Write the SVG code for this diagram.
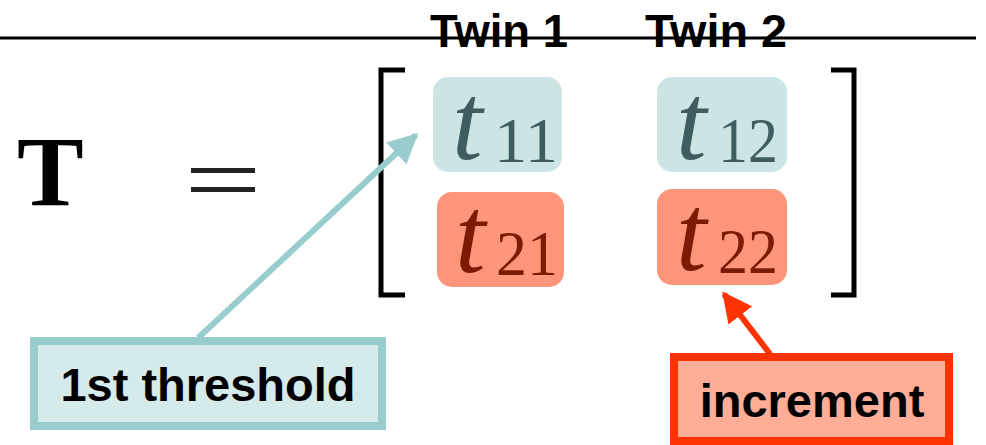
<svg xmlns="http://www.w3.org/2000/svg" width="986" height="445" viewBox="0 0 986 445">
<defs>
<style>
.lbl{font-family:"Liberation Sans",Arial,sans-serif;font-weight:bold;fill:#000}
.m{font-family:"Liberation Serif","Times New Roman",serif}
.ti{font-style:italic}
.teal{fill:#cce5e4}
.sal{fill:#fc957a}
.tt{fill:#3f5c60}
.rt{fill:#7d1a04}
</style>
<marker id="ahT" viewBox="0 0 10 10" refX="9" refY="5" markerWidth="5" markerHeight="5" orient="auto"><path d="M0,0 L10,5 L0,10 z" fill="#99cccc"/></marker>
<marker id="ahR" viewBox="0 0 10 10" refX="9" refY="5" markerWidth="5" markerHeight="5" orient="auto"><path d="M0,0 L10,5 L0,10 z" fill="#ff3300"/></marker>
</defs>
<line x1="0" y1="38" x2="976" y2="38" stroke="#000" stroke-width="3"/>
<g id="twin1"><text class="lbl" x="430" y="47" font-size="47" textLength="138" lengthAdjust="spacingAndGlyphs">Twin 1</text></g>
<g id="twin2"><text class="lbl" x="645" y="47" font-size="47" textLength="142" lengthAdjust="spacingAndGlyphs">Twin 2</text></g>
<g id="T"><text class="m" x="17" y="205" font-size="100" font-weight="bold">T</text></g>
<g id="eq"><rect x="191" y="168" width="64" height="5" fill="#222"/><rect x="191" y="187" width="64" height="5" fill="#222"/></g>
<g id="brackets" fill="none" stroke="#000" stroke-width="5">
<path d="M405,70 H381 V295 H405"/>
<path d="M831,70 H854 V295 H831"/>
</g>
<g id="t11"><rect class="teal" x="433" y="77" width="129" height="95" rx="15"/><text class="m tt" y="159"><tspan class="ti" x="452" font-size="110">t</tspan><tspan x="494" y="162" font-size="64" textLength="64" lengthAdjust="spacingAndGlyphs">11</tspan></text></g>
<g id="t12"><rect class="teal" x="657" y="77" width="130" height="95" rx="15"/><text class="m tt" y="159"><tspan class="ti" x="676" font-size="110">t</tspan><tspan x="718" y="162" font-size="64" textLength="60" lengthAdjust="spacingAndGlyphs">12</tspan></text></g>
<g id="t21"><rect class="sal" x="437" y="192" width="127" height="95" rx="15"/><text class="m rt" y="272"><tspan class="ti" x="455" font-size="110">t</tspan><tspan x="496" y="275" font-size="64" textLength="62" lengthAdjust="spacingAndGlyphs">21</tspan></text></g>
<g id="t22"><rect class="sal" x="657" y="189" width="130" height="96" rx="15"/><text class="m rt" y="270"><tspan class="ti" x="676" font-size="110">t</tspan><tspan x="718" y="273" font-size="64" textLength="60" lengthAdjust="spacingAndGlyphs">22</tspan></text></g>
<g id="connectors">
<line x1="198" y1="338" x2="416" y2="135" stroke="#99cccc" stroke-width="6" marker-end="url(#ahT)"/>
<line x1="770" y1="354" x2="724" y2="294" stroke="#ff3300" stroke-width="6" marker-end="url(#ahR)"/>
</g>
<g id="threshold"><rect x="34" y="341" width="348" height="85" fill="#d5eaea" stroke="#99cdcd" stroke-width="8"/><text class="lbl" x="208" y="401" font-size="47" text-anchor="middle">1st threshold</text></g>
<g id="increment"><rect x="674" y="357" width="275" height="84" fill="#ffad96" stroke="#ff3300" stroke-width="8"/><text class="lbl" x="812" y="417" font-size="47" text-anchor="middle">increment</text></g>
</svg>
